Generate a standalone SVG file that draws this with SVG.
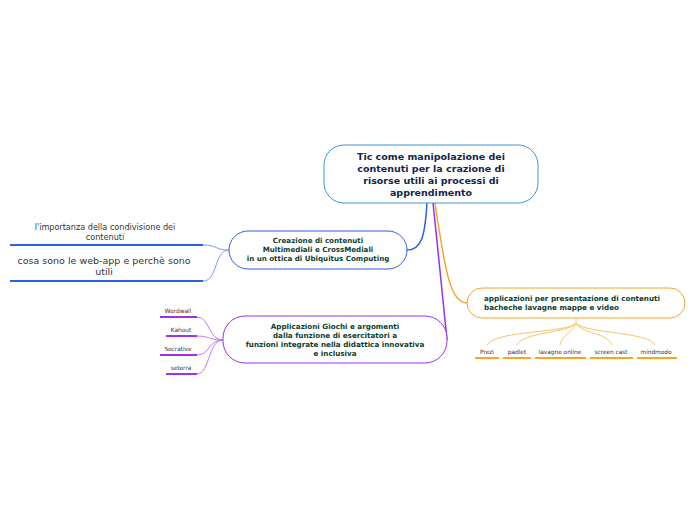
<svg xmlns="http://www.w3.org/2000/svg" width="696" height="520" viewBox="0 0 696 520">
<style>
.node{fill:#fff;stroke-width:1}
.t{font-family:"DejaVu Sans",Verdana,sans-serif;font-weight:bold;text-anchor:middle}
.lbl{font-family:"DejaVu Sans",Verdana,sans-serif;fill:#333;text-anchor:middle}
.c{fill:none}
</style>
<rect width="696" height="520" fill="#fff"/>
<g id="connectors">
<path class="c" d="M427,203 C425,235 422,250 407,250" stroke="#2a5fe8" stroke-width="1.5"/>
<path class="c" d="M433,203 C438,250 443,300 447,340" stroke="#9a2ef0" stroke-width="1.5"/>
<path class="c" d="M435,203 C445,270 450,303 467,303" stroke="#f5a623" stroke-width="1.5"/>
<g stroke="#7a9cf2" stroke-width="1">
<path class="c" d="M229,250 C215,250 217,245 203,245"/>
<path class="c" d="M229,250 C214,250 218,281 203,281"/>
</g>
<g stroke="#c47af2" stroke-width="1">
<path class="c" d="M223,340 C208,340 210,317 197,317"/>
<path class="c" d="M223,340 C208,340 210,336 197,336"/>
<path class="c" d="M223,340 C208,340 210,355 197,355"/>
<path class="c" d="M223,340 C208,340 210,374 197,374"/>
</g>
<g stroke="#f8c46a" stroke-width="1">
<path class="c" d="M576,318 L576,323 C570,333 495,330 487,345"/>
<path class="c" d="M576,323 C570,333 522,332 517,345"/>
<path class="c" d="M576,323 C572,333 562,335 560,345"/>
<path class="c" d="M576,323 C580,333 608,333 612,345"/>
<path class="c" d="M576,323 C582,333 650,332 655,345"/>
</g>
</g>
<g id="central">
<rect class="node" x="324" y="145" width="214" height="58" rx="20" stroke="#3f95d6"/>
<text class="t" font-size="9.5" fill="#15254a"><tspan x="431" y="160">Tic come manipolazione dei</tspan><tspan x="431" y="172">contenuti per la crazione di</tspan><tspan x="431" y="184">risorse utili ai processi di</tspan><tspan x="431" y="196">apprendimento</tspan></text>
</g>
<g id="creazione">
<rect class="node" x="229" y="231" width="178" height="38" rx="19" stroke="#2a5fe8"/>
<text class="t" font-size="7.1" fill="#0d4030"><tspan x="318" y="243">Creazione di contenuti</tspan><tspan x="318" y="252">Multimediali e CrossMediali</tspan><tspan x="318" y="261">in un ottica di Ubiquitus Computing</tspan></text>
</g>
<g id="importanza">
<text class="lbl" font-size="8.1"><tspan x="105" y="230">l'importanza della condivisione dei</tspan><tspan x="105" y="240">contenuti</tspan></text>
<line x1="10" y1="245" x2="203" y2="245" stroke="#2a5fe8" stroke-width="2"/>
</g>
<g id="webapp">
<text class="lbl" font-size="9.5"><tspan x="104" y="264">cosa sono le web-app e perchè sono</tspan><tspan x="104" y="275">utili</tspan></text>
<line x1="10" y1="281" x2="203" y2="281" stroke="#2a5fe8" stroke-width="2"/>
</g>
<g id="giochi">
<rect class="node" x="223" y="316" width="224" height="47" rx="22" stroke="#9a2ef0"/>
<text class="t" font-size="7.2" fill="#0d4030"><tspan x="335" y="329">Applicazioni Giochi e argomenti</tspan><tspan x="335" y="338">dalla funzione di esercitatori a</tspan><tspan x="335" y="347">funzioni integrate nella didattica innovativa</tspan><tspan x="335" y="356">e inclusiva</tspan></text>
</g>
<g id="wordwall"><text class="lbl" font-size="5.8" x="178" y="313">Wordwall</text><line x1="160" y1="317" x2="197" y2="317" stroke="#a030f0" stroke-width="2"/></g>
<g id="kahout"><text class="lbl" font-size="5.8" x="181" y="332">Kahout</text><line x1="166" y1="336" x2="197" y2="336" stroke="#a030f0" stroke-width="2"/></g>
<g id="socrative"><text class="lbl" font-size="5.8" x="178" y="351">Socrative</text><line x1="160" y1="355" x2="197" y2="355" stroke="#a030f0" stroke-width="2"/></g>
<g id="seterra"><text class="lbl" font-size="5.8" x="181" y="370">seterra</text><line x1="166" y1="374" x2="197" y2="374" stroke="#a030f0" stroke-width="2"/></g>
<g id="presentazione">
<rect class="node" x="467" y="288" width="218" height="30" rx="15" stroke="#f5a623"/>
<text class="t" font-size="7.2" fill="#0d4030" style="text-anchor:start"><tspan x="484" y="301">applicazioni per presentazione di contenuti</tspan><tspan x="484" y="310">bacheche lavagne mappe e video</tspan></text>
</g>
<g id="prezi"><text class="lbl" font-size="5.8" x="487" y="354">Prezi</text><line x1="475" y1="358" x2="499" y2="358" stroke="#f5a623" stroke-width="2"/></g>
<g id="padlet"><text class="lbl" font-size="5.8" x="517" y="354">padlet</text><line x1="503" y1="358" x2="531" y2="358" stroke="#f5a623" stroke-width="2"/></g>
<g id="lavagne"><text class="lbl" font-size="5.8" x="560" y="354">lavagne online</text><line x1="535" y1="358" x2="586" y2="358" stroke="#f5a623" stroke-width="2"/></g>
<g id="screencast"><text class="lbl" font-size="5.8" x="611" y="354">screen cast</text><line x1="590" y1="358" x2="633" y2="358" stroke="#f5a623" stroke-width="2"/></g>
<g id="mindmodo"><text class="lbl" font-size="5.8" x="656" y="354">mindmodo</text><line x1="637" y1="358" x2="677" y2="358" stroke="#f5a623" stroke-width="2"/></g>
</svg>
